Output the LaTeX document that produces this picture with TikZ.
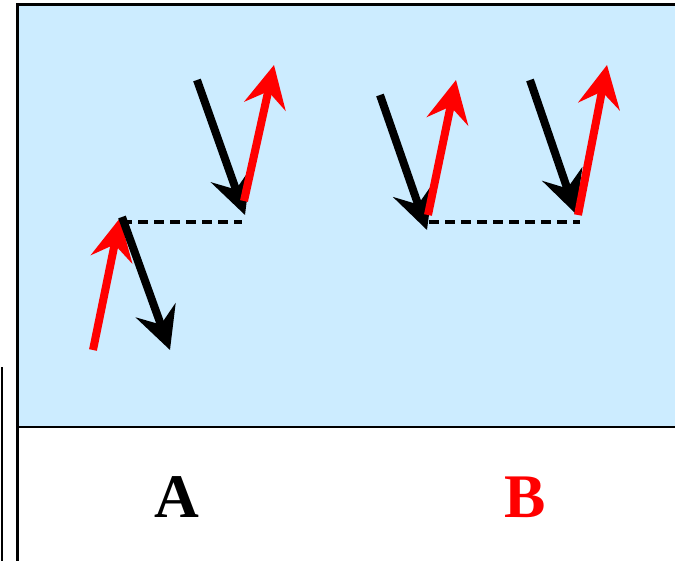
\documentclass[tikz,border=0pt]{standalone}
\usepackage{fontspec}
\setmainfont{Liberation Serif}
\usetikzlibrary{arrows.meta}
\definecolor{panelblue}{RGB}{204, 236, 255}

\tikzset{
  spin/.style={line width=8pt, -{Stealth[length=42pt, width=42pt, inset=15pt]}},
  spindown/.style={spin, black},
  spinup/.style={spin, red},
  pairlink/.style={line width=4pt, dash pattern=on 10pt off 6pt},
  tag/.style={font=\fontsize{62}{62}\selectfont\bfseries, inner sep=0pt}
}

\begin{document}
\begin{tikzpicture}[x=1pt, y=-1pt]
  \useasboundingbox (0,0) rectangle (675,560);

  % panel
  \fill[panelblue] (17,4) rectangle (677,427);
  \draw[line width=3pt] (17,561) -- (17,4) -- (677,4);
  \draw[line width=2.5pt] (17,427) -- (677,427);
  \draw[line width=2.5pt] (2,367) -- (2,561);

  % case A
  \coordinate (a1t) at (93,350);
  \coordinate (a1h) at (120,218);
  \coordinate (a2t) at (122,217);
  \coordinate (a2h) at (170,350);
  \coordinate (a3t) at (197,80);
  \coordinate (a3h) at (245,215);
  \coordinate (a4t) at (244,201);
  \coordinate (a4h) at (274,65);
  \coordinate (alink) at (242,222);
  \draw[pairlink] (a2t |- alink) -- (alink);
  \draw[spinup] (a1t) -- (a1h);
  \draw[spindown] (a2t) -- (a2h);
  \draw[spindown] (a3t) -- (a3h);
  \draw[spinup] (a4t) -- (a4h);

  % case B
  \coordinate (b1t) at (380,95);
  \coordinate (b1h) at (427,230);
  \coordinate (b2t) at (428,215);
  \coordinate (b2h) at (456,80);
  \coordinate (b3t) at (530,80);
  \coordinate (b3h) at (576,214);
  \coordinate (b4t) at (578,215);
  \coordinate (b4h) at (607,65);
  \coordinate (blink) at (580,222);
  \draw[pairlink] (429,222) -- (blink);
  \draw[spindown] (b1t) -- (b1h);
  \draw[spinup] (b2t) -- (b2h);
  \draw[spindown] (b3t) -- (b3h);
  \draw[spinup] (b4t) -- (b4h);

  \node[tag] (labA) at (177,497) {A};
  \node[tag, red] (labB) at (525,497) {B};
\end{tikzpicture}
\end{document}
